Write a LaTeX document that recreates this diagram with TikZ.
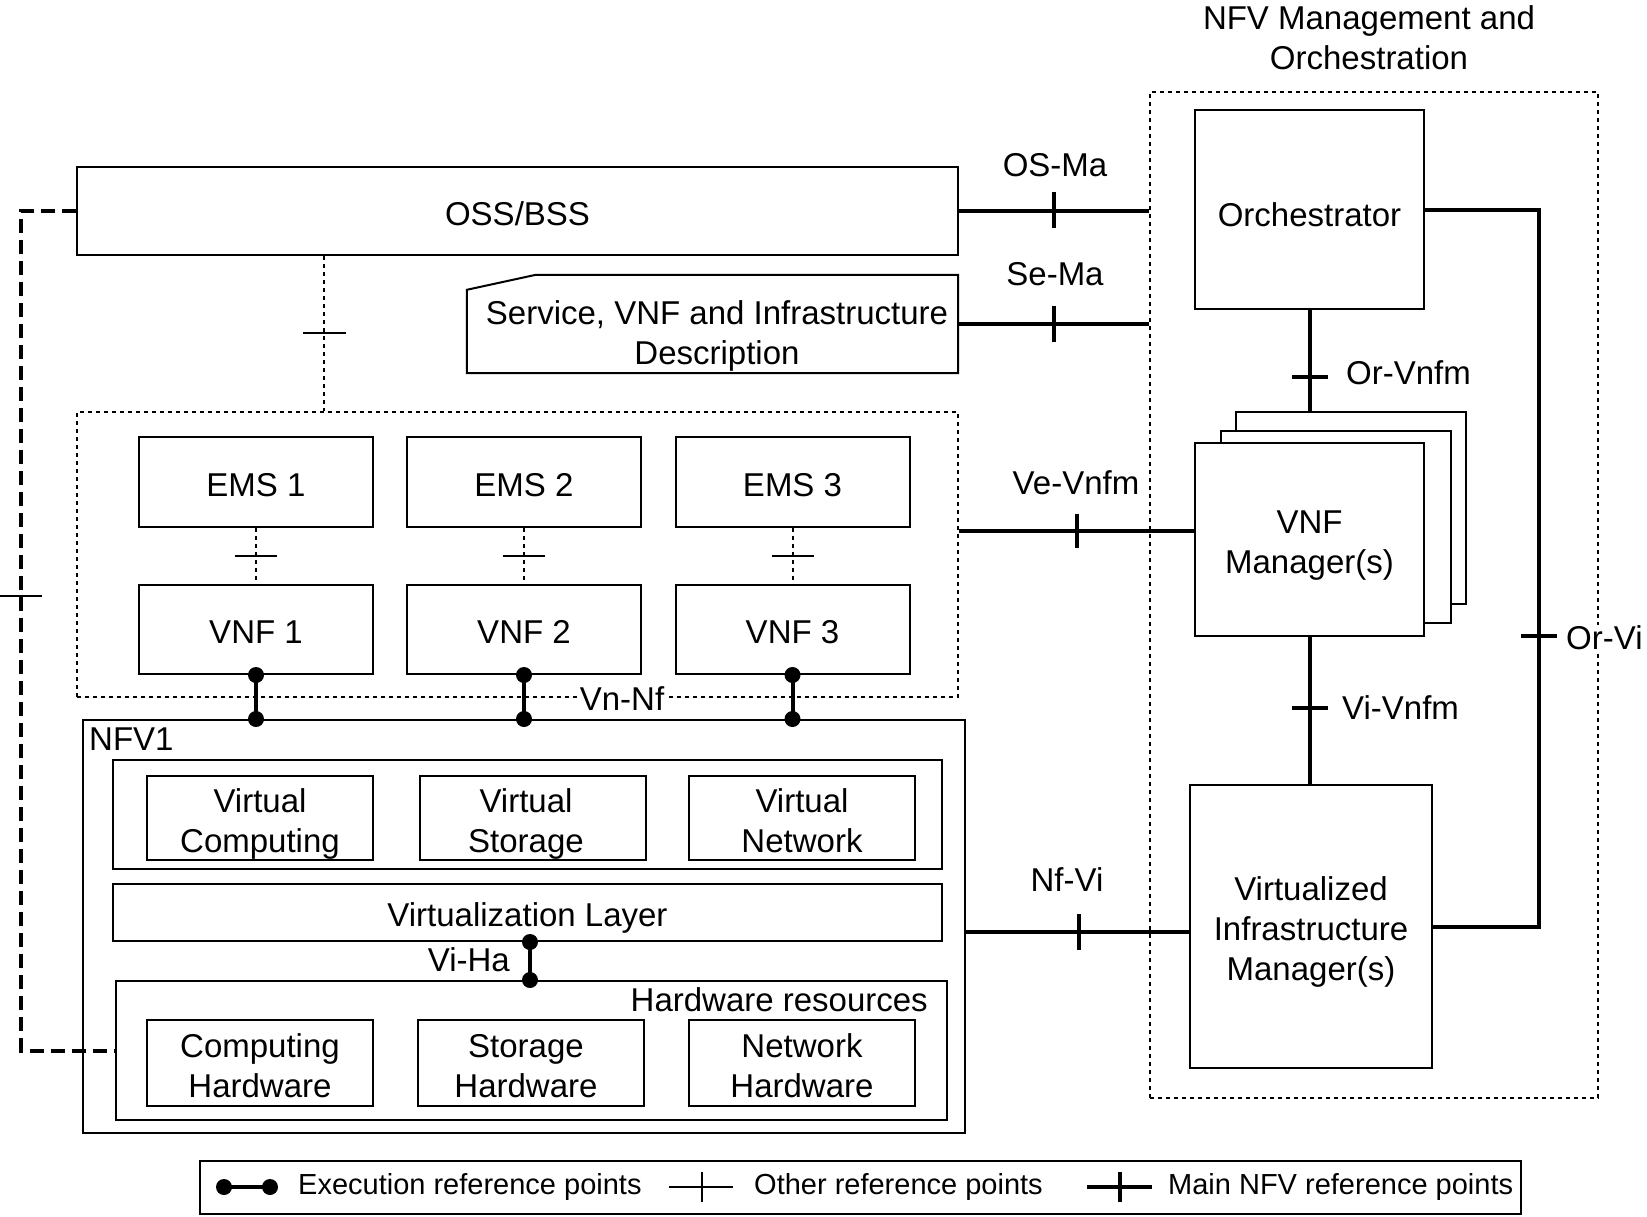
\documentclass[tikz,border=0pt]{standalone}
\usepackage{fontspec}
\setmainfont{Liberation Sans}
\usetikzlibrary{calc}
\newcommand\mfont{\fontsize{33}{40}\selectfont}
\newcommand\lfont{\fontsize{29}{34}\selectfont}
\newcommand\sttop{\rule{0pt}{36pt}}
\newcommand\stbot{\rule[-8pt]{0pt}{8pt}}
\newcommand\bt[1]{\sttop#1\stbot}
\begin{document}
\begin{tikzpicture}[x=1pt,y=-1pt,
 box/.style={draw, line width=2pt, align=center, inner sep=0pt, font=\mfont, fill=white},
 lbl/.style={font=\mfont, inner sep=1pt, align=center},
 llbl/.style={font=\lfont, inner sep=0pt, anchor=west},
 mainln/.style={line width=4pt},
 thinln/.style={line width=2pt},
 dotln/.style={line width=2pt, dash pattern=on 4pt off 4pt},
 dashln/.style={line width=4pt, dash pattern=on 14pt off 7pt},
 exdot/.style={circle, fill=black, inner sep=0pt, minimum size=16pt},
]
\useasboundingbox (0,0) rectangle (1647,1216);

% ---------- MANO ----------
\node[draw, dotln, minimum width=448, minimum height=1006, inner sep=0pt] (mano) at (1374,595) {};
\node[lbl] (manot) at (1369,38) {NFV Management and\\Orchestration};
\node[box, minimum width=229, minimum height=199] (orch) at (1309.5,209.5) {};
\node[font=\mfont, inner sep=0pt] (orcht) at (1309.5,212) {\bt{Orchestrator}};
\node[box, minimum width=230, minimum height=192] (vnfmc) at (1351,508) {};
\node[box, minimum width=230, minimum height=192] (vnfmb) at (1336,527) {};
\node[box, minimum width=229, minimum height=193] (vnfm) at (1309.5,539.5) {\bt{VNF\\Manager(s)}};
\node[box, minimum width=242, minimum height=283] (vim) at (1311,926.5) {\bt{Virtualized\\Infrastructure\\Manager(s)}};

% ---------- OSS / description ----------
\node[box, minimum width=881, minimum height=88] (oss) at (517.5,211) {\bt{OSS/BSS}};
\node[inner sep=0pt, minimum width=491, minimum height=98] (svc) at (712.5,324) {};
\draw[thinln] ($(svc.north west)+(0,15)$) -- ($(svc.north west)+(69,0)$) -- (svc.north east) -- (svc.south east) -- (svc.south west) -- cycle;
\node[lbl, inner sep=0pt] (svct) at (717,330) {\bt{Service, VNF and Infrastructure\\Description}};

% ---------- EMS / VNF ----------
\node[draw, dotln, minimum width=881, minimum height=285, inner sep=0pt] (emsbox) at (517.5,554.5) {};
\node[box, minimum width=234, minimum height=90] (ems1) at (256,482) {\bt{EMS 1}};
\node[box, minimum width=234, minimum height=90] (ems2) at (524,482) {\bt{EMS 2}};
\node[box, minimum width=234, minimum height=90] (ems3) at (792.5,482) {\bt{EMS 3}};
\node[box, minimum width=234, minimum height=89] (vnf1) at (256,629.5) {\bt{VNF 1}};
\node[box, minimum width=234, minimum height=89] (vnf2) at (524,629.5) {\bt{VNF 2}};
\node[box, minimum width=234, minimum height=89] (vnf3) at (792.5,629.5) {\bt{VNF 3}};

% ---------- NFVI ----------
\node[draw, line width=2pt, minimum width=882, minimum height=413, inner sep=0pt] (nfvi) at (524,926.5) {};
\node[lbl, anchor=west] (nfvit) at (88,739) {NFV1};
\node[box, minimum width=829, minimum height=109] (vres) at (527.5,814.5) {};
\node[box, minimum width=226, minimum height=84] (vc) at (260,818) {\bt{Virtual\\Computing}};
\node[box, minimum width=226, minimum height=84] (vs) at (533,818) {};
\node[font=\mfont, align=center, inner sep=0pt] (vst) at (526,818) {\bt{Virtual\\Storage}};
\node[box, minimum width=226, minimum height=84] (vn) at (802,818) {\bt{Virtual\\Network}};
\node[box, minimum width=829, minimum height=57] (vl) at (527.5,912.5) {\bt{Virtualization Layer}};
\node[box, minimum width=831, minimum height=139] (hw) at (531.5,1050.5) {};
\node[lbl, anchor=east] (hwt) at (929,1000) {Hardware resources};
\node[box, minimum width=226, minimum height=86] (ch) at (260,1063) {\bt{Computing\\Hardware}};
\node[box, minimum width=226, minimum height=86] (sh) at (531,1063) {};
\node[font=\mfont, align=center, inner sep=0pt] (sht) at (526,1063) {\bt{Storage\\Hardware}};
\node[box, minimum width=226, minimum height=86] (nh) at (802,1063) {\bt{Network\\Hardware}};

% ---------- connectors ----------
% OS-Ma
\draw[mainln] (oss.east) -- (oss.east -| mano.west);
\draw[mainln] (1054,192) -- (1054,228);
\node[lbl] (osma) at (1055,165) {OS-Ma};
% Se-Ma
\draw[mainln] (svc.east) -- (svc.east -| mano.west);
\draw[mainln] (1054,306) -- (1054,342);
\node[lbl] (sema) at (1055,274) {Se-Ma};
% Ve-Vnfm
\draw[mainln] (emsbox.east |- 0,531) -- (vnfm.west |- 0,531);
\draw[mainln] (1077,514) -- (1077,548);
\node[lbl] (vevnfm) at (1076,483) {Ve-Vnfm};
% Nf-Vi
\draw[mainln] (nfvi.east |- 0,932) -- (vim.west |- 0,932);
\draw[mainln] (1079,914) -- (1079,950);
\node[lbl] (nfvi-l) at (1067,880) {Nf-Vi};
% Or-Vnfm
\draw[mainln] (orch.south) -- (orch.south |- vnfmc.north);
\draw[mainln] (1292,377) -- (1328,377);
\node[lbl, anchor=west] (orvnfm) at (1345,373) {Or-Vnfm};
% Vi-Vnfm
\draw[mainln] (vnfm.south) -- (vnfm.south |- vim.north);
\draw[mainln] (1292,708) -- (1328,708);
\node[lbl, anchor=west] (vivnfm) at (1341,708) {Vi-Vnfm};
% Or-Vi
\coordinate (orvi) at (1539,600);
\draw[mainln] (orch.east) -| (orvi) |- (vim.east);
\draw[mainln] (1521,636) -- (1557,636);
\node[lbl, anchor=west, fill=white] (orvil) at (1565,638) {Or-Vi};

% OSS - EMS dotted
\draw[dotln] (oss.south -| 324,0) -- (emsbox.north -| 324,0);
\draw[thinln] (303,333) -- (346,333);
% EMS - VNF dotted
\foreach \i in {1,2,3}{
  \draw[dotln] (ems\i.south) -- (vnf\i.north);
  \draw[thinln] ($(ems\i.south)!0.5!(vnf\i.north)+(-21,0)$) -- ($(ems\i.south)!0.5!(vnf\i.north)+(21,0)$);
}
% Vn-Nf execution
\foreach \i in {1,2,3}{
  \draw[mainln] (vnf\i.south) -- (vnf\i.south |- nfvi.north);
  \node[exdot] at (vnf\i.south) {};
  \node[exdot] at (vnf\i.south |- nfvi.north) {};
}
\node[font=\mfont, fill=white, inner sep=2pt] (vnnf) at (622,699) {Vn-Nf};
% Vi-Ha
\draw[mainln] (vl.south -| 530,0) -- (hw.north -| 530,0);
\node[exdot] at (vl.south -| 530,0) {};
\node[exdot] at (hw.north -| 530,0) {};
\node[lbl, anchor=east] (viha) at (511,960) {Vi-Ha};

% left dashed OSS - hardware
\coordinate (lft) at (21,600);
\draw[dashln] (oss.west) -| (lft) |- (hw.west);
\draw[thinln] (0,596) -- (42,596);

% ---------- legend ----------
\node[draw, line width=2pt, minimum width=1321, minimum height=53, inner sep=0pt] (leg) at (860.5,1187) {};
\draw[mainln] (224,1187) -- (270,1187);
\node[exdot] at (224,1187) {};
\node[exdot] at (270,1187) {};
\node[llbl] (l1) at (298,1187) {Execution reference points};
\draw[thinln] (669,1187) -- (733,1187);
\draw[thinln] (702,1172) -- (702,1202);
\node[llbl] (l2) at (754,1187) {Other reference points};
\draw[mainln] (1087,1187) -- (1152,1187);
\draw[mainln] (1120,1172) -- (1120,1202);
\node[llbl] (l3) at (1168,1187) {Main NFV reference points};
\end{tikzpicture}
\end{document}
